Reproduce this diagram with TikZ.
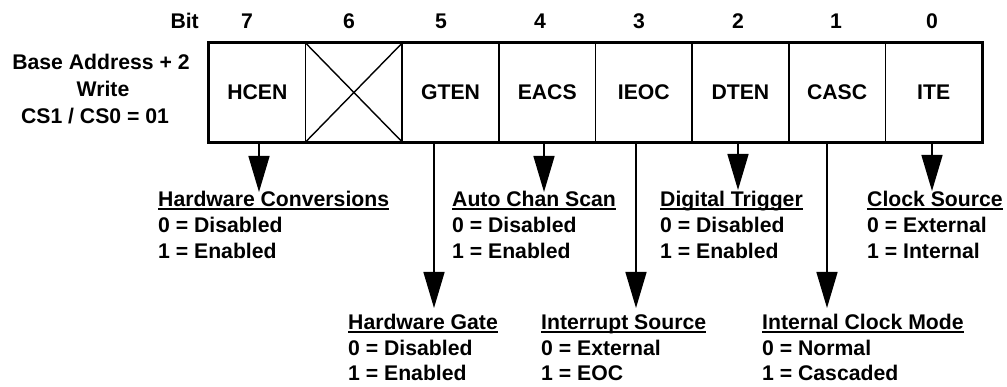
\documentclass[tikz,border=0pt]{standalone}
\usepackage{fontspec}
\setmainfont{Liberation Sans}
\usetikzlibrary{arrows.meta}
\begin{document}
\begin{tikzpicture}[x=1pt,y=-1pt,
  lbl/.style={font=\bfseries\fontsize{21.2}{26}\selectfont, inner sep=0pt},
  cell/.style={lbl, draw, line width=1.6pt, minimum width=96.6pt, minimum height=99pt, anchor=center},
  txt/.style={lbl, anchor=base west},
  arr/.style={line width=1.5pt, -{Triangle[length=36pt,width=21pt]}},
  ul/.style={line width=2pt}]
\useasboundingbox (0,0) rectangle (1007,387);

% register label
\node[lbl, anchor=base east] (bit) at (199,29) {Bit};
\node[lbl, anchor=base] (addr1) at (101,69.6) {Base Address + 2};
\node[lbl, anchor=base] (addr2) at (103,96.6) {Write};
\node[lbl, anchor=base] (addr3) at (95,123.6) {CS1 / CS0 = 01};

% bit numbers
\foreach \n/\x in {7/247,6/349,5/441,4/540,3/639,2/738,1/836,0/932}
  \node[lbl, anchor=base] (n\n) at (\x,29) {\n};

% register cells
\node[cell] (b7) at (257.3,92.5) {HCEN};
\node[cell] (b6) at (353.9,92.5) {};
\node[cell] (b5) at (450.6,92.5) {GTEN};
\node[cell] (b4) at (547.2,92.5) {EACS};
\node[cell] (b3) at (643.8,92.5) {IEOC};
\node[cell] (b2) at (740.4,92.5) {DTEN};
\node[cell] (b1) at (837.1,92.5) {CASC};
\node[cell] (b0) at (933.7,92.5) {ITE};
\draw[line width=2.4pt] (b7.north west) rectangle (b0.south east);
\draw[line width=1.4pt] (b6.north west) -- (b6.south east)
                        (b6.north east) -- (b6.south west);

% field descriptions, upper row
\node[txt] (hc) at (158,206.3) {Hardware Conversions};
\node[txt] (hc0) at (158,232.5) {0 = Disabled};
\node[txt] (hc1) at (158,258.5) {1 = Enabled};

\node[txt] (ac) at (452,206.3) {Auto Chan Scan};
\node[txt] (ac0) at (452,232.5) {0 = Disabled};
\node[txt] (ac1) at (452,258.5) {1 = Enabled};

\node[txt] (dt) at (660,206.3) {Digital Trigger};
\node[txt] (dt0) at (660,232.5) {0 = Disabled};
\node[txt] (dt1) at (660,258.5) {1 = Enabled};

\node[txt] (cs) at (867,206.3) {Clock Source};
\node[txt] (cs0) at (867,232.5) {0 = External};
\node[txt] (cs1) at (867,258.5) {1 = Internal};

% field descriptions, lower row
\node[txt] (hg) at (348,330) {Hardware Gate};
\node[txt] (hg0) at (348,355.5) {0 = Disabled};
\node[txt] (hg1) at (348,381) {1 = Enabled};

\node[txt] (is) at (541,330) {Interrupt Source};
\node[txt] (is0) at (541,355.5) {0 = External};
\node[txt] (is1) at (541,381) {1 = EOC};

\node[txt] (cm) at (762,330) {Internal Clock Mode};
\node[txt] (cm0) at (762,355.5) {0 = Normal};
\node[txt] (cm1) at (762,381) {1 = Cascaded};

% heading underlines
\foreach \h in {hc,ac,dt,cs,hg,is,cm}
  \draw[ul] ([yshift=-2.4pt]\h.base west) -- ([yshift=-2.4pt]\h.base east);

% arrow tips
\coordinate (t7) at (259,192);
\coordinate (t5) at (434,308);
\coordinate (t4) at (544,192);
\coordinate (t3) at (636,308);
\coordinate (t2) at (738,190);
\coordinate (t1) at (827,308);
\coordinate (t0) at (932,191);

\foreach \b in {7,5,4,3,2,1,0}
  \draw[arr] (t\b |- b\b.south) -- (t\b);
\end{tikzpicture}
\end{document}
